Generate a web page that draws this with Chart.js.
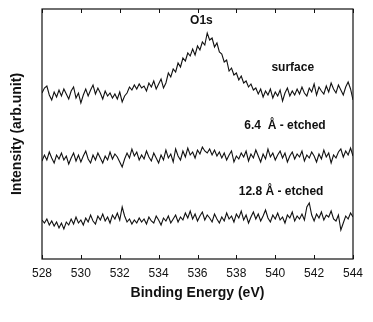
<!DOCTYPE html>
<html>
<head>
<meta charset="utf-8">
<script src="https://cdn.jsdelivr.net/npm/chart.js@4/dist/chart.umd.min.js"></script>
<style>
  html, body { margin:0; padding:0; background:#fff; }
  #wrap { width:373px; height:322px; }
</style>
</head>
<body>
<div id="wrap"><canvas id="c" width="373" height="322"></canvas></div>
<script>
// ========== DATA ==========
// binding energy grid: 528 -> 544 eV, step 0.125 (129 points)
const E_START = 528, E_STEP = 0.125;
const xTicks = [528, 530, 532, 534, 536, 538, 540, 542, 544];

// intensities (arb. units, traces already offset as in the figure)
const surface = [
  166,171,173,164,159,167,162,169,163,
  170,165,160,168,172,161,166,156,
  164,170,163,169,174,165,171,166,
  160,168,163,166,161,165,160,167,
  157,163,166,172,169,174,170,175,
  171,173,168,176,172,178,170,175,
  180,171,176,186,182,190,187,196,
  192,201,198,206,203,210,204,213,
  209,217,214,226,219,221,212,216,
  207,205,197,199,188,191,184,186,
  179,183,176,178,172,175,169,171,
  165,170,162,168,164,170,161,167,
  163,169,158,166,171,163,168,164,
  170,165,172,166,163,171,167,175,
  164,172,168,165,173,167,176,170,
  166,174,169,164,172,177,170,159
];
const etched64 = [
  98,104,99,107,101,96,104,100,106,
  99,103,95,101,106,98,104,97,
  103,108,100,96,104,99,106,101,
  96,103,99,107,100,105,102,97,
  92,100,106,101,110,103,107,99,
  104,100,108,102,98,106,101,96,
  104,99,109,101,105,97,110,103,
  99,108,102,111,104,107,101,109,
  105,112,108,106,110,104,109,103,
  107,101,106,99,104,108,97,103,
  100,106,102,108,98,105,101,109,
  103,97,105,100,110,102,106,99,
  104,108,101,106,97,103,107,100,
  105,102,108,98,104,101,107,103,
  97,105,100,109,102,106,96,104,
  101,107,110,102,108,104,111,103
];
const etched128 = [
  39,36,40,34,38,33,37,31,36,
  30,37,34,40,35,42,36,39,
  34,41,37,44,38,35,43,39,
  45,38,42,36,44,40,46,39,
  52,43,37,40,35,39,36,41,
  37,40,35,42,38,36,43,39,
  34,41,38,43,36,40,44,37,
  42,39,46,41,48,40,45,38,
  43,47,39,44,41,37,45,40,
  36,42,38,46,40,43,37,45,
  41,48,39,44,36,42,47,40,
  45,38,43,49,41,37,44,40,
  46,39,42,36,44,41,47,38,
  43,40,45,39,52,56,44,38,
  45,41,47,39,44,42,48,40,
  38,44,29,36,43,40,46,42
];

// curve labels: [text, energy, intensity]
const labels = [
  ['O1s', 536.2, 238],
  ['surface', 540.9, 191],
  ['6.4  Å - etched', 540.5, 133],
  ['12.8 Å - etched', 540.3, 67]
];

const FONT = '"Liberation Sans", Arial, sans-serif';
const toXY = arr => arr.map((v, i) => ({ x: E_START + i * E_STEP, y: v }));
const ds = arr => ({ data: toXY(arr), borderColor:'#111', borderWidth:1.1, pointRadius:0, tension:0, fill:false });

// frame, inward ticks and curve labels
const decor = {
  id: 'decor',
  afterDraw(chart){
    const { ctx, chartArea: a, scales: { x, y } } = chart;
    ctx.save();
    ctx.strokeStyle = '#111';
    ctx.lineWidth = 1.2;
    ctx.strokeRect(a.left, a.top, a.right - a.left, a.bottom - a.top);
    ctx.lineWidth = 1;
    xTicks.forEach(t => {
      const px = Math.round(x.getPixelForValue(t)) + 0.5;
      ctx.beginPath();
      ctx.moveTo(px, a.bottom); ctx.lineTo(px, a.bottom - 4);
      ctx.moveTo(px, a.top);    ctx.lineTo(px, a.top + 4);
      ctx.stroke();
    });
    ctx.fillStyle = '#111';
    ctx.font = 'bold 12px ' + FONT;
    ctx.textAlign = 'center';
    ctx.textBaseline = 'middle';
    labels.forEach(([txt, e, v]) => ctx.fillText(txt, x.getPixelForValue(e), y.getPixelForValue(v)));
    ctx.restore();
  }
};

new Chart(document.getElementById('c'), {
  type: 'line',
  data: { datasets: [ds(surface), ds(etched64), ds(etched128)] },
  options: {
    responsive: false,
    animation: false,
    layout: { padding: { left: 0, right: 20, top: 9, bottom: 0 } },
    plugins: { legend: { display: false }, tooltip: { enabled: false } },
    scales: {
      x: {
        type: 'linear', min: 528, max: 544,
        afterBuildTicks: s => { s.ticks = xTicks.map(v => ({ value: v })); },
        afterFit: s => { s.height = 63; },
        grid: { display: false, drawTicks: false },
        border: { display: false },
        ticks: { color:'#111', font: { family: FONT, size: 12 }, padding: 7, maxRotation: 0 },
        title: { display: true, text: 'Binding Energy (eV)', color:'#111',
                 font: { family: FONT, size: 14, weight: 'bold' }, padding: { top: 0, bottom: 20 } }
      },
      y: {
        min: 0, max: 250,
        afterFit: s => { s.width = 42; },
        grid: { display: false, drawTicks: false },
        border: { display: false },
        ticks: { display: false },
        title: { display: true, text: 'Intensity (arb.unit)', color:'#111',
                 font: { family: FONT, size: 14, weight: 'bold' }, padding: { top: 9, bottom: 0 } }
      }
    }
  },
  plugins: [decor]
});
</script>
</body>
</html>
